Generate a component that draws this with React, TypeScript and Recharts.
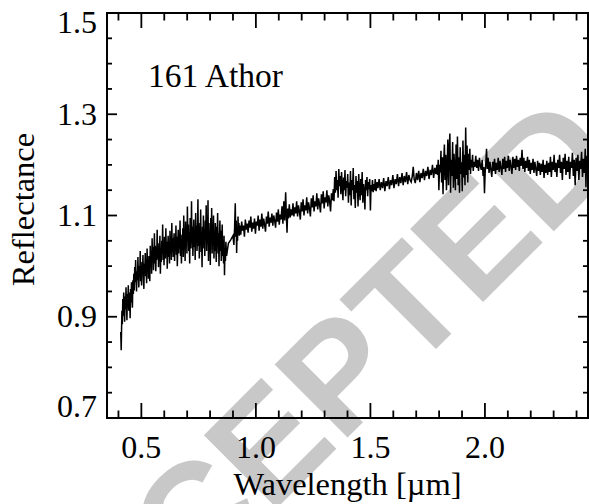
import { LineChart, Line, XAxis, YAxis } from "recharts";

// [wavelength (µm), reflectance]
const visible: [number, number][] = [
  [0.41, 0.87], [0.412, 0.834], [0.415, 0.912], [0.417, 0.885], [0.419, 0.935], [0.421, 0.902],
  [0.423, 0.948], [0.425, 0.918], [0.427, 0.89], [0.429, 0.94], [0.431, 0.915], [0.433, 0.958],
  [0.435, 0.922], [0.437, 0.893], [0.439, 0.945], [0.441, 0.93], [0.443, 0.962], [0.445, 0.912],
  [0.447, 0.948], [0.449, 0.932], [0.451, 0.897], [0.453, 0.955], [0.455, 0.928], [0.457, 0.968],
  [0.459, 0.94], [0.461, 0.918], [0.463, 0.972], [0.465, 0.945], [0.467, 0.985], [0.469, 0.952],
  [0.471, 0.998], [0.473, 0.968], [0.475, 1.012], [0.477, 0.975], [0.479, 0.95], [0.481, 0.99],
  [0.483, 0.972], [0.485, 1.018], [0.487, 0.982], [0.489, 0.958], [0.491, 1.0], [0.493, 0.978],
  [0.495, 1.03], [0.497, 0.97], [0.499, 0.995], [0.501, 0.962], [0.503, 1.008], [0.505, 0.984],
  [0.507, 1.022], [0.509, 0.976], [0.511, 0.955], [0.513, 1.005], [0.515, 0.988], [0.517, 1.026],
  [0.519, 0.98], [0.521, 1.0], [0.523, 0.966], [0.525, 1.035], [0.527, 0.992], [0.529, 1.012],
  [0.531, 0.975], [0.533, 1.02], [0.535, 0.995], [0.537, 0.97], [0.539, 1.04], [0.541, 1.0],
  [0.543, 1.03], [0.545, 0.985], [0.547, 1.055], [0.549, 1.01], [0.551, 1.038], [0.553, 0.992],
  [0.555, 1.022], [0.557, 1.065], [0.559, 1.005], [0.561, 1.04], [0.563, 0.99], [0.565, 1.028],
  [0.567, 1.012], [0.569, 1.072], [0.571, 1.015], [0.573, 1.045], [0.575, 0.998], [0.577, 1.035],
  [0.579, 1.02], [0.581, 1.06], [0.583, 0.985], [0.585, 1.03], [0.587, 1.008], [0.589, 1.05],
  [0.591, 1.025], [0.593, 1.082], [0.595, 1.012], [0.597, 1.04], [0.599, 1.002], [0.601, 1.058],
  [0.603, 1.03], [0.605, 1.015], [0.607, 1.075], [0.609, 1.022], [0.611, 1.048], [0.613, 0.995],
  [0.615, 1.038], [0.617, 1.06], [0.619, 1.018], [0.621, 1.044], [0.623, 1.005], [0.625, 1.07],
  [0.627, 1.032], [0.629, 1.05], [0.631, 1.012], [0.633, 1.085], [0.635, 1.028], [0.637, 1.055],
  [0.639, 1.018], [0.641, 1.045], [0.643, 1.065], [0.645, 1.01], [0.647, 1.05], [0.649, 1.03],
  [0.651, 1.08], [0.653, 1.022], [0.655, 1.058], [0.657, 1.0], [0.659, 1.04], [0.661, 1.072],
  [0.663, 1.025], [0.665, 1.055], [0.667, 1.035], [0.669, 1.09], [0.671, 1.02], [0.673, 1.048],
  [0.675, 1.005], [0.677, 1.062], [0.679, 1.038], [0.681, 1.075], [0.683, 1.018], [0.685, 1.1],
  [0.687, 1.04], [0.689, 1.06], [0.691, 1.01], [0.693, 1.088], [0.695, 1.045], [0.697, 1.07],
  [0.699, 1.025], [0.701, 1.118], [0.703, 1.05], [0.705, 1.082], [0.707, 1.03], [0.709, 1.065],
  [0.711, 1.005], [0.713, 1.095], [0.715, 1.055], [0.717, 1.035], [0.719, 1.128], [0.721, 1.045],
  [0.723, 1.078], [0.725, 1.02], [0.727, 1.06], [0.729, 1.092], [0.731, 1.038], [0.733, 1.07],
  [0.735, 1.012], [0.737, 1.105], [0.739, 1.048], [0.741, 1.08], [0.743, 1.03], [0.745, 1.062],
  [0.747, 1.132], [0.749, 1.04], [0.751, 1.085], [0.753, 1.015], [0.755, 1.07], [0.757, 1.05],
  [0.759, 1.112], [0.761, 1.028], [0.763, 1.065], [0.765, 0.998], [0.767, 1.078], [0.769, 1.045],
  [0.771, 1.1], [0.773, 1.035], [0.775, 1.06], [0.777, 1.02], [0.779, 1.09], [0.781, 1.052],
  [0.783, 1.12], [0.785, 1.03], [0.787, 1.075], [0.789, 1.045], [0.791, 1.13], [0.793, 1.01],
  [0.795, 1.085], [0.797, 1.04], [0.799, 1.068], [0.801, 1.002], [0.803, 1.095], [0.805, 1.05],
  [0.807, 1.115], [0.809, 1.025], [0.811, 1.07], [0.813, 1.04], [0.815, 1.1], [0.817, 1.015],
  [0.819, 1.06], [0.821, 1.03], [0.823, 1.085], [0.825, 1.048], [0.827, 1.008], [0.829, 1.078],
  [0.831, 1.04], [0.833, 1.105], [0.835, 1.025], [0.837, 1.065], [0.839, 1.0], [0.841, 1.058],
  [0.843, 1.09], [0.845, 1.03], [0.847, 1.07], [0.849, 1.01], [0.851, 1.05], [0.853, 1.082],
  [0.855, 1.02], [0.857, 1.045], [0.859, 1.005], [0.861, 1.06], [0.863, 0.982], [0.865, 1.035],
  [0.867, 1.01], [0.869, 1.048], [0.872, 1.02], [0.88, 1.045], [0.89, 1.052], [0.9, 1.06],
  [0.904, 1.042], [0.907, 1.075], [0.91, 1.124], [0.912, 1.058], [0.914, 1.09], [0.916, 1.026],
  [0.918, 1.07], [0.92, 1.05], [0.922, 1.098], [0.924, 1.062], [0.926, 1.085], [0.928, 1.06],
  [0.93, 1.08],
];

const nearIR: [number, number][] = [
  [0.934, 1.062], [0.938, 1.088], [0.942, 1.07], [0.946, 1.08], [0.95, 1.058], [0.954, 1.092],
  [0.958, 1.072], [0.962, 1.084], [0.966, 1.066], [0.97, 1.09], [0.974, 1.076], [0.978, 1.098],
  [0.982, 1.068], [0.986, 1.086], [0.99, 1.074], [0.994, 1.094], [0.998, 1.064], [1.002, 1.088],
  [1.006, 1.08], [1.01, 1.1], [1.014, 1.07], [1.018, 1.092], [1.022, 1.078], [1.026, 1.104],
  [1.03, 1.074], [1.034, 1.094], [1.038, 1.082], [1.042, 1.068], [1.046, 1.098], [1.05, 1.084],
  [1.054, 1.108], [1.058, 1.078], [1.062, 1.096], [1.066, 1.086], [1.07, 1.104], [1.074, 1.08],
  [1.078, 1.1], [1.082, 1.09], [1.086, 1.076], [1.09, 1.106], [1.094, 1.088], [1.098, 1.112],
  [1.102, 1.082], [1.106, 1.102], [1.11, 1.092], [1.114, 1.118], [1.118, 1.084], [1.122, 1.128],
  [1.126, 1.09], [1.13, 1.146], [1.133, 1.1], [1.136, 1.066], [1.139, 1.114], [1.142, 1.094],
  [1.146, 1.122], [1.15, 1.096], [1.154, 1.112], [1.158, 1.1], [1.162, 1.124], [1.166, 1.098],
  [1.17, 1.116], [1.174, 1.104], [1.178, 1.128], [1.182, 1.098], [1.186, 1.12], [1.19, 1.108],
  [1.194, 1.092], [1.198, 1.126], [1.202, 1.108], [1.206, 1.132], [1.21, 1.1], [1.214, 1.12],
  [1.218, 1.11], [1.222, 1.136], [1.226, 1.104], [1.23, 1.126], [1.234, 1.114], [1.238, 1.098],
  [1.242, 1.134], [1.246, 1.116], [1.25, 1.14], [1.254, 1.108], [1.258, 1.128], [1.262, 1.118],
  [1.266, 1.144], [1.27, 1.112], [1.274, 1.134], [1.278, 1.122], [1.282, 1.106], [1.286, 1.142],
  [1.29, 1.124], [1.294, 1.148], [1.298, 1.114], [1.302, 1.136], [1.306, 1.126], [1.31, 1.15],
  [1.314, 1.118], [1.318, 1.14], [1.322, 1.128], [1.326, 1.108], [1.33, 1.144], [1.334, 1.13],
  [1.338, 1.152], [1.341, 1.128], [1.344, 1.176], [1.347, 1.145], [1.35, 1.188], [1.353, 1.15],
  [1.356, 1.17], [1.359, 1.135], [1.362, 1.192], [1.365, 1.158], [1.368, 1.178], [1.371, 1.142],
  [1.374, 1.186], [1.377, 1.16], [1.38, 1.13], [1.383, 1.175], [1.386, 1.15], [1.389, 1.19],
  [1.392, 1.138], [1.395, 1.168], [1.398, 1.155], [1.401, 1.182], [1.404, 1.125], [1.407, 1.165],
  [1.41, 1.14], [1.413, 1.188], [1.416, 1.12], [1.419, 1.17], [1.422, 1.15], [1.425, 1.194],
  [1.428, 1.132], [1.431, 1.16], [1.434, 1.115], [1.437, 1.178], [1.44, 1.145], [1.443, 1.168],
  [1.446, 1.118], [1.449, 1.182], [1.452, 1.15], [1.455, 1.13], [1.458, 1.172], [1.461, 1.14],
  [1.464, 1.186], [1.467, 1.125], [1.47, 1.162], [1.473, 1.148], [1.476, 1.112], [1.479, 1.17],
  [1.482, 1.15], [1.485, 1.176], [1.488, 1.138], [1.491, 1.166], [1.494, 1.152], [1.497, 1.172],
  [1.5, 1.11], [1.503, 1.16], [1.506, 1.148], [1.509, 1.17], [1.512, 1.146], [1.515, 1.162],
  [1.518, 1.15], [1.521, 1.172], [1.525, 1.148], [1.529, 1.166], [1.533, 1.154], [1.538, 1.172],
  [1.543, 1.15], [1.548, 1.166], [1.553, 1.154], [1.558, 1.174], [1.563, 1.148], [1.568, 1.168],
  [1.573, 1.158], [1.578, 1.176], [1.583, 1.152], [1.588, 1.17], [1.593, 1.16], [1.598, 1.18],
  [1.603, 1.154], [1.608, 1.172], [1.613, 1.162], [1.618, 1.182], [1.623, 1.158], [1.628, 1.176],
  [1.633, 1.164], [1.638, 1.184], [1.643, 1.16], [1.648, 1.178], [1.653, 1.166], [1.658, 1.186],
  [1.663, 1.162], [1.668, 1.18], [1.673, 1.17], [1.678, 1.166], [1.683, 1.178], [1.687, 1.196],
  [1.691, 1.172], [1.696, 1.164], [1.701, 1.184], [1.706, 1.17], [1.711, 1.188], [1.716, 1.166],
  [1.721, 1.184], [1.726, 1.174], [1.731, 1.192], [1.736, 1.17], [1.741, 1.188], [1.746, 1.178],
  [1.751, 1.196], [1.756, 1.172], [1.761, 1.19], [1.766, 1.18], [1.771, 1.2], [1.776, 1.174],
  [1.781, 1.194], [1.786, 1.182], [1.79, 1.2],
];

const band2um: [number, number][] = [
  [1.793, 1.18], [1.796, 1.21], [1.799, 1.15], [1.802, 1.2], [1.805, 1.185], [1.808, 1.228],
  [1.811, 1.165], [1.814, 1.215], [1.817, 1.142], [1.82, 1.205], [1.823, 1.24], [1.826, 1.17],
  [1.829, 1.22], [1.832, 1.15], [1.835, 1.195], [1.838, 1.25], [1.841, 1.16], [1.844, 1.232],
  [1.847, 1.262], [1.85, 1.145], [1.853, 1.21], [1.856, 1.178], [1.859, 1.245], [1.862, 1.155],
  [1.865, 1.222], [1.868, 1.19], [1.871, 1.15], [1.874, 1.24], [1.877, 1.172], [1.88, 1.256],
  [1.883, 1.16], [1.886, 1.215], [1.889, 1.145], [1.892, 1.235], [1.895, 1.182], [1.898, 1.205],
  [1.901, 1.148], [1.904, 1.248], [1.907, 1.175], [1.91, 1.22], [1.913, 1.16], [1.916, 1.274],
  [1.919, 1.18], [1.922, 1.238], [1.925, 1.165], [1.928, 1.222], [1.931, 1.19], [1.934, 1.232],
  [1.937, 1.182], [1.94, 1.21], [1.943, 1.195], [1.946, 1.22], [1.949, 1.188], [1.952, 1.206],
  [1.956, 1.196], [1.96, 1.218], [1.964, 1.194], [1.968, 1.21], [1.972, 1.188], [1.976, 1.214],
  [1.98, 1.198], [1.984, 1.19], [1.988, 1.21], [1.992, 1.178], [1.995, 1.196], [1.998, 1.144],
  [2.001, 1.185], [2.004, 1.205], [2.007, 1.232], [2.01, 1.192], [2.014, 1.214], [2.018, 1.184],
  [2.022, 1.206], [2.026, 1.19], [2.03, 1.176], [2.034, 1.206], [2.038, 1.188], [2.042, 1.212],
  [2.046, 1.182], [2.05, 1.204], [2.054, 1.19], [2.058, 1.214], [2.062, 1.186], [2.066, 1.208],
  [2.07, 1.194], [2.074, 1.18], [2.078, 1.212], [2.082, 1.192], [2.086, 1.216], [2.09, 1.186],
  [2.094, 1.208], [2.098, 1.194], [2.102, 1.218], [2.106, 1.188], [2.11, 1.21], [2.114, 1.196],
  [2.118, 1.182], [2.122, 1.216], [2.126, 1.194], [2.13, 1.212], [2.134, 1.19], [2.138, 1.218],
  [2.142, 1.196], [2.146, 1.21], [2.15, 1.188], [2.154, 1.214], [2.158, 1.198], [2.162, 1.23],
  [2.166, 1.192], [2.17, 1.214], [2.174, 1.186], [2.178, 1.208], [2.182, 1.194], [2.186, 1.216],
  [2.19, 1.188], [2.194, 1.21], [2.198, 1.182], [2.202, 1.204], [2.206, 1.19], [2.21, 1.212],
  [2.214, 1.184], [2.218, 1.206], [2.222, 1.192], [2.226, 1.178], [2.23, 1.208], [2.234, 1.188],
  [2.238, 1.204], [2.242, 1.18], [2.246, 1.202], [2.25, 1.186], [2.254, 1.21], [2.258, 1.174],
  [2.262, 1.2], [2.266, 1.184], [2.27, 1.208], [2.274, 1.18], [2.278, 1.204], [2.282, 1.186],
  [2.286, 1.216], [2.29, 1.176], [2.294, 1.206], [2.298, 1.19], [2.302, 1.22], [2.306, 1.186],
  [2.31, 1.204], [2.314, 1.176], [2.318, 1.21], [2.322, 1.194], [2.326, 1.22], [2.33, 1.184],
  [2.334, 1.206], [2.338, 1.17], [2.342, 1.214], [2.346, 1.192], [2.35, 1.222], [2.354, 1.18],
  [2.358, 1.208], [2.362, 1.186], [2.366, 1.216], [2.37, 1.172], [2.374, 1.206], [2.378, 1.194],
  [2.382, 1.224], [2.386, 1.178], [2.39, 1.21], [2.394, 1.16], [2.398, 1.214], [2.402, 1.188],
  [2.406, 1.22], [2.41, 1.17], [2.414, 1.208], [2.418, 1.192], [2.422, 1.226], [2.426, 1.176],
  [2.43, 1.212], [2.434, 1.184], [2.438, 1.232], [2.441, 1.156], [2.444, 1.218], [2.447, 1.19],
  [2.45, 1.236],
];

const xTicks = [0.4, 0.5, 0.6, 0.7, 0.8, 0.9, 1.0, 1.1, 1.2, 1.3, 1.4, 1.5, 1.6, 1.7, 1.8, 1.9, 2.0, 2.1, 2.2, 2.3, 2.4];
const xLabels = [0.5, 1.0, 1.5, 2.0];
const yTicks = [0.7, 0.75, 0.8, 0.85, 0.9, 0.95, 1.0, 1.05, 1.1, 1.15, 1.2, 1.25, 1.3, 1.35, 1.4, 1.45, 1.5];
const yLabels = [0.7, 0.9, 1.1, 1.3, 1.5];

const data = [...visible, ...nearIR, ...band2um].map(([w, r]) => ({ w, r }));

const W = 589;
const H = 504;
const SERIF = "'Liberation Serif', 'Times New Roman', serif";
const AXIS = { stroke: "#000", strokeWidth: 2, strokeLinecap: "square" as const };

const BottomTick = ({ x, y, payload }: any) => {
  const major = xLabels.includes(payload.value);
  return (
    <g>
      <line x1={x} x2={x} y1={y} y2={y - (major ? 15 : 7.5)} stroke="#000" strokeWidth={1.8} />
      {major && (
        <text x={x} y={y + 40} textAnchor="middle" fontSize={32} fontFamily={SERIF} fill="#000">
          {payload.value.toFixed(1)}
        </text>
      )}
    </g>
  );
};

const TopTick = ({ x, y, payload }: any) => {
  const major = xLabels.includes(payload.value);
  return <line x1={x} x2={x} y1={y} y2={y + (major ? 15 : 7.5)} stroke="#000" strokeWidth={1.8} />;
};

const LeftTick = ({ x, y, payload }: any) => {
  const v = payload.value;
  const major = yLabels.includes(v);
  // end labels are nudged inside the frame
  const base = v === 1.5 ? y + 19.5 : v === 0.7 ? y - 1 : y + 10.5;
  return (
    <g>
      <line x1={x} x2={x + (major ? 10 : 5)} y1={y} y2={y} stroke="#000" strokeWidth={1.8} />
      {major && (
        <text x={x - 10} y={base} textAnchor="end" fontSize={32} fontFamily={SERIF} fill="#000">
          {v.toFixed(1)}
        </text>
      )}
    </g>
  );
};

const RightTick = ({ x, y, payload }: any) => {
  const major = yLabels.includes(payload.value);
  return <line x1={x} x2={x - (major ? 10 : 5)} y1={y} y2={y} stroke="#000" strokeWidth={1.8} />;
};

const YTitle = ({ viewBox }: any) => {
  const cx = 23;
  const cy = viewBox.y + viewBox.height / 2 - 6;
  return (
    <text
      x={cx}
      y={cy}
      dy="0.33em"
      transform={`rotate(-90 ${cx} ${cy})`}
      textAnchor="middle"
      fontSize={32.5}
      fontFamily={SERIF}
      fill="#000"
    >
      Reflectance
    </text>
  );
};

export default function App() {
  return (
    <div style={{ position: "absolute", left: 0, top: 0, width: W, height: H, background: "#fff" }}>
      <svg width={W} height={H} style={{ position: "absolute", left: 0, top: 0 }}>
        <text
          x={40}
          y={745}
          transform="rotate(-45 40 745)"
          fontFamily="'Liberation Sans', Arial, sans-serif"
          fontWeight="bold"
          fontSize={150}
          fill="#c8c8c8"
        >
          ACCEPTED MANUSCRIPT
        </text>
        <text x={148} y={87} fontSize={33.5} fontFamily={SERIF} fill="#000">
          161 Athor
        </text>
      </svg>
      <div style={{ position: "absolute", left: 0, top: 0 }}>
        <LineChart width={W} height={H} data={data} margin={{ top: 0, right: 0, bottom: 0, left: 0 }}>
          <XAxis
            xAxisId="bottom"
            dataKey="w"
            type="number"
            domain={[0.35, 2.45]}
            allowDataOverflow
            ticks={xTicks}
            interval={0}
            height={86}
            tickSize={0}
            tickMargin={0}
            tickLine={false}
            axisLine={AXIS}
            tick={<BottomTick />}
            label={{
              value: "Wavelength [µm]",
              position: "insideBottom",
              offset: 9,
              fill: "#000",
              fontSize: 32.5,
              fontFamily: SERIF,
            }}
          />
          <XAxis
            xAxisId="top"
            orientation="top"
            dataKey="w"
            type="number"
            domain={[0.35, 2.45]}
            allowDataOverflow
            ticks={xTicks}
            interval={0}
            height={13}
            tickSize={0}
            tickMargin={0}
            tickLine={false}
            axisLine={AXIS}
            tick={<TopTick />}
          />
          <YAxis
            yAxisId="left"
            type="number"
            domain={[0.7, 1.5]}
            allowDataOverflow
            ticks={yTicks}
            interval={0}
            width={107}
            tickSize={0}
            tickMargin={0}
            tickLine={false}
            axisLine={AXIS}
            tick={<LeftTick />}
            label={<YTitle />}
          />
          <YAxis
            yAxisId="right"
            orientation="right"
            type="number"
            domain={[0.7, 1.5]}
            allowDataOverflow
            ticks={yTicks}
            interval={0}
            width={1}
            tickSize={0}
            tickMargin={0}
            tickLine={false}
            axisLine={AXIS}
            tick={<RightTick />}
          />
          <Line
            xAxisId="bottom"
            yAxisId="left"
            dataKey="r"
            type="linear"
            stroke="#000"
            strokeWidth={1.5}
            dot={false}
            isAnimationActive={false}
          />
        </LineChart>
      </div>
    </div>
  );
}
